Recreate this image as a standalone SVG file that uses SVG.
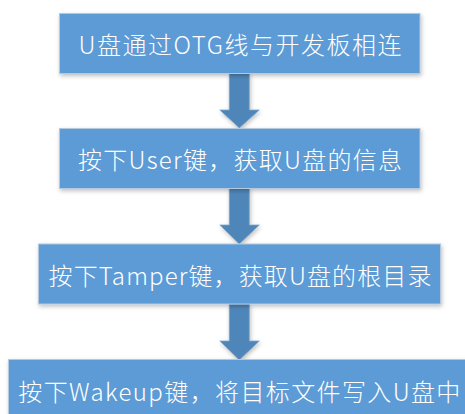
<svg xmlns="http://www.w3.org/2000/svg" width="465" height="414" viewBox="0 0 465 414">
<defs>
<filter id="sh" x="-10%" y="-20%" width="120%" height="150%">
<feDropShadow dx="1" dy="2" stdDeviation="2" flood-color="#000" flood-opacity="0.25"/>
</filter>
</defs>
<style>
.box{fill:#5B9BD5;stroke:#B4C8DE;stroke-width:1;filter:url(#sh)}
.arr{fill:#4F86B9;stroke:#7FA6CC;stroke-width:0.8;filter:url(#sh)}
.t{font-family:"Noto Sans CJK SC","Noto Sans",sans-serif;font-size:24px;font-weight:300;fill:#FFFFFF;text-anchor:middle;dominant-baseline:central}
</style>
<rect width="465" height="414" fill="#FFFFFF"/>
<g id="connectors">
<path class="arr" d="M229.3,73 H249.3 V110 H259.3 L239.3,128 L219.8,110 H229.3 Z"/>
<path class="arr" d="M229.3,188 H249.3 V225 H259.3 L239.3,244 L219.8,225 H229.3 Z"/>
<path class="arr" d="M229.3,304 H249.3 V341 H259.3 L239.3,360 L219.8,341 H229.3 Z"/>
</g>
<g id="n1">
<rect class="box" x="59.5" y="13.5" width="360.5" height="60"/>
<text class="t" x="240" y="43" textLength="323" lengthAdjust="spacing">U盘通过OTG线与开发板相连</text>
</g>
<g id="n2">
<rect class="box" x="59.5" y="128.5" width="360.5" height="60"/>
<text class="t" x="240" y="158" textLength="324" lengthAdjust="spacing">按下User键，获取U盘的信息</text>
</g>
<g id="n3">
<rect class="box" x="38.5" y="244" width="402" height="60"/>
<text class="t" x="240" y="274" textLength="383" lengthAdjust="spacing">按下Tamper键，获取U盘的根目录</text>
</g>
<g id="n4">
<rect class="box" x="8.5" y="359.5" width="462" height="60"/>
<text class="t" x="239.3" y="390" textLength="442" lengthAdjust="spacing">按下Wakeup键，将目标文件写入U盘中</text>
</g>
</svg>
